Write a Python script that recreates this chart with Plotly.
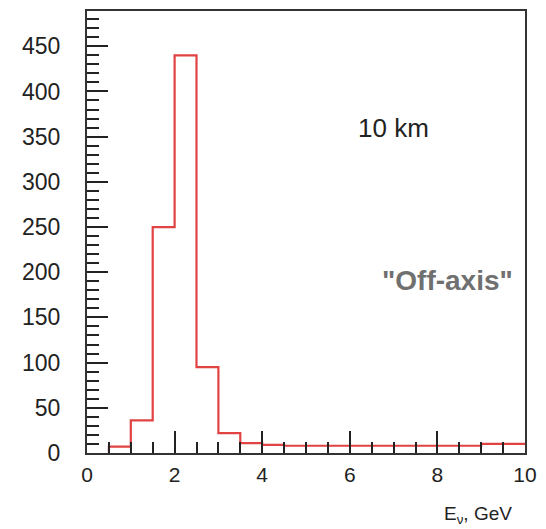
import plotly.graph_objects as go

bin_edges = [0.5, 1.0, 1.5, 2.0, 2.5, 3.0, 3.5, 4.0, 4.5, 5.0, 5.5, 6.0, 6.5, 7.0, 7.5, 8.0, 8.5, 9.0, 9.5, 10.0]
counts = [7, 36, 250, 440, 95, 22, 11, 9, 8, 8, 8, 8, 8, 8, 8, 8, 8, 10, 10]
x_ticks = [0, 2, 4, 6, 8, 10]
y_ticks = [0, 50, 100, 150, 200, 250, 300, 350, 400, 450]

x_steps = [bin_edges[0]] + bin_edges
y_steps = [0] + counts + [counts[-1]]

W, H = 546, 529
L, R, T, B = 87, 14, 9, 76

fig = go.Figure()
fig.add_trace(go.Scatter(
    x=x_steps, y=y_steps, mode="lines", line_shape="hv",
    line=dict(color="rgba(222,45,45,0.9)", width=2.2), hoverinfo="skip", showlegend=False))

font_family = "Liberation Sans, Arial, sans-serif"
fig.update_layout(
    width=W, height=H,
    margin=dict(l=L, r=R, t=T, b=B),
    paper_bgcolor="white", plot_bgcolor="white",
    font=dict(family=font_family, size=21, color="#222"),
    xaxis=dict(range=[0, 10], tickvals=x_ticks, ticks="inside", ticklen=22,
               tickwidth=2, tickcolor="#222", showline=True, linecolor="#333", linewidth=2,
               mirror=True, showgrid=False, zeroline=False, ticklabelstandoff=2,
               tickfont=dict(size=21),
               minor=dict(dtick=0.5, ticks="inside", ticklen=11, tickwidth=2, tickcolor="#222")),
    yaxis=dict(range=[0, 489], tickvals=y_ticks,
               ticks="inside", ticklen=21, tickwidth=2, tickcolor="#222", showline=True,
               linecolor="#333", linewidth=2, mirror=True, showgrid=False, zeroline=False,
               ticklabelstandoff=20, tickfont=dict(size=23),
               minor=dict(dtick=10, ticks="inside", ticklen=12, tickwidth=2, tickcolor="#222")),
)

pw = W - L - R
ph = H - T - B


def px_ann(text, px, py, size, color, **kw):
    fig.add_annotation(text=text, x=(px - L) / pw, y=(H - B - py) / ph,
                       xref="paper", yref="paper", xanchor="center", yanchor="middle",
                       showarrow=False, font=dict(size=size, color=color, family=font_family), **kw)


px_ann("10 km", 398, 127, 26, "#222")
px_ann("<b>\"Off-axis\"</b>", 453, 280, 28, "#707070")
px_ann("E<sub>ν</sub>, GeV", 484, 515, 19, "#222")

fig.write_html("out.html")
